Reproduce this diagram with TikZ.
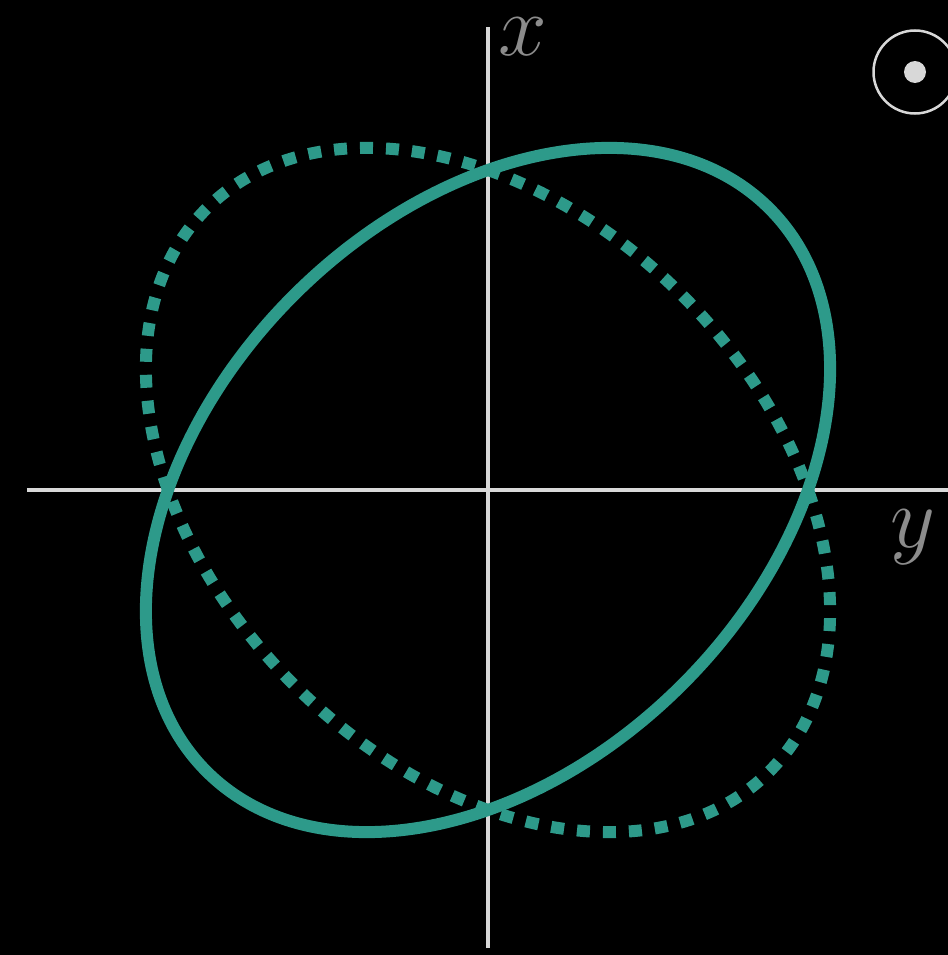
\documentclass[tikz,border=0pt]{standalone}
\definecolor{wavegreen}{HTML}{2D9A8A}
\definecolor{axisgray}{HTML}{D8D8D8}
\definecolor{labelgray}{HTML}{8C8C8C}
\begin{document}
\begin{tikzpicture}[
  axis/.style={axisgray,line width=0.045cm},
  pol/.style={wavegreen,line width=0.12cm},
  polback/.style={pol,dash pattern=on 0.13cm off 0.13cm},
  lbl/.style={labelgray,inner sep=0pt,font=\fontsize{24}{28}\selectfont}]
\fill[black] (-4.88,-4.65) rectangle (4.60,4.90);
\useasboundingbox (-4.88,-4.65) rectangle (4.60,4.90);
% axes
\coordinate (west) at (-4.61,0);
\coordinate (east) at (4.60,0);
\coordinate (north) at (0,4.63);
\coordinate (south) at (0,-4.58);
\draw[axis] (west) -- (east);
\draw[axis] (south) -- (north);
\node[lbl] (xlab) at (0.35,4.53) {$x$};
\node[lbl] (ylab) at (4.25,-0.47) {$y$};
% polarisation ellipses
\draw[polback,rotate=-45] (0,0) ellipse [x radius=3.98, y radius=2.75];
\draw[pol,rotate=45] (0,0) ellipse [x radius=3.98, y radius=2.75];
% out of plane marker
\node[draw=axisgray,line width=0.025cm,circle,minimum size=0.83cm,inner sep=0pt] (outof) at (4.27,4.18) {};
\fill[axisgray] (outof.center) circle (0.11);
\end{tikzpicture}
\end{document}
